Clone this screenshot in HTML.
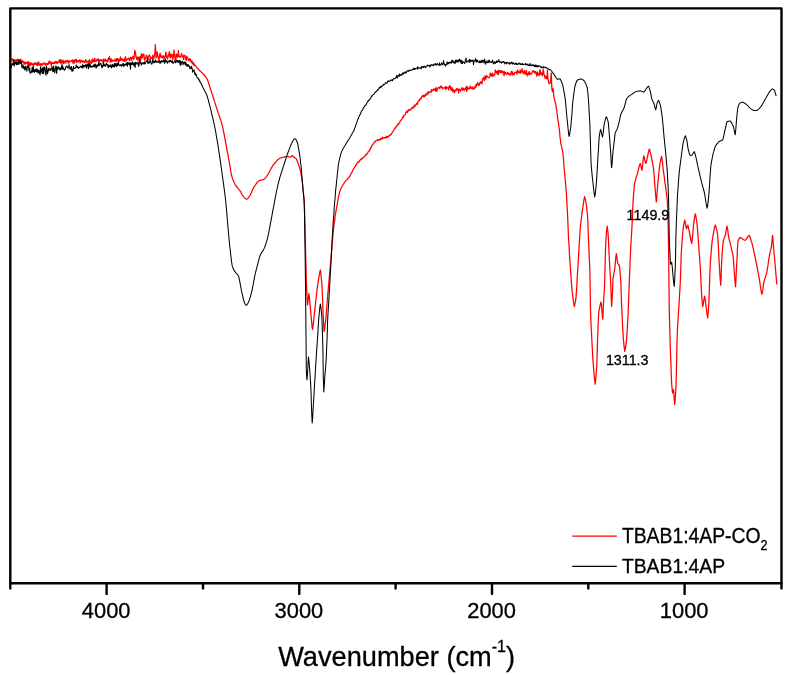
<!DOCTYPE html>
<html lang="en">
<head>
<meta charset="utf-8">
<title>FTIR spectra</title>
<style>
html,body{margin:0;padding:0;background:#fff;}
body{width:792px;height:675px;overflow:hidden;}
svg{display:block;}
svg text{font-family:"Liberation Sans",sans-serif;fill:#000;stroke:#000;stroke-width:0.3px;}
</style>
</head>
<body>
<svg width="792" height="675" viewBox="0 0 792 675">
<rect x="0" y="0" width="792" height="675" fill="#ffffff"/>
<g fill="none" stroke-linejoin="round" stroke-linecap="round">
<polyline stroke="#ff0000" stroke-width="1.25" points="10.5,59.5 10.9,60.0 11.3,59.5 11.7,58.9 12.1,59.6 12.5,59.0 12.9,60.4 13.3,62.0 13.7,59.9 14.1,59.9 14.5,61.3 14.9,61.2 15.3,61.0 15.7,59.9 16.1,61.1 16.5,62.0 16.9,59.7 17.3,60.8 17.7,59.2 18.1,60.0 18.4,59.5 18.8,61.5 19.2,60.3 19.6,62.3 20.0,62.2 20.4,61.9 20.8,59.2 21.2,61.6 21.6,62.3 22.0,62.6 22.4,60.7 22.8,62.0 23.2,61.5 23.6,61.8 24.0,64.1 24.4,61.9 24.8,62.9 25.2,64.1 25.6,62.4 26.0,63.0 26.4,63.3 26.8,63.3 27.2,61.9 27.6,63.5 28.0,65.1 28.4,61.6 28.8,64.6 29.2,63.7 29.6,62.9 30.0,66.1 30.4,64.7 30.8,62.3 31.2,63.9 31.6,64.6 31.9,63.7 32.3,64.8 32.7,63.9 33.1,64.8 33.5,65.8 33.9,63.2 34.3,64.3 34.7,63.5 35.1,64.3 35.5,62.7 35.9,63.5 36.3,63.9 36.7,65.3 37.1,65.6 37.5,62.6 37.9,63.2 38.3,65.0 38.7,61.8 39.1,63.6 39.5,64.1 39.9,65.7 40.3,65.0 40.7,63.8 41.1,63.7 41.5,63.8 41.8,65.9 42.2,63.6 42.6,63.7 43.0,64.5 43.4,63.9 43.8,63.8 44.2,62.6 44.6,63.9 45.0,63.4 45.4,65.3 45.8,64.6 46.2,63.8 46.6,64.6 47.0,63.3 47.4,64.9 47.8,63.6 48.2,64.3 48.6,62.0 49.0,63.9 49.3,61.4 49.7,61.0 50.1,63.0 50.5,62.3 50.9,63.5 51.3,65.9 51.7,62.2 52.1,62.4 52.5,63.3 52.9,63.6 53.3,62.8 53.7,62.7 54.1,63.7 54.5,63.5 54.9,61.6 55.3,62.7 55.7,62.8 56.0,61.4 56.4,62.9 56.8,61.5 57.2,63.7 57.6,62.7 58.0,62.5 58.4,61.7 58.8,62.2 59.2,59.9 59.6,60.9 60.0,62.7 60.4,59.6 60.8,63.2 61.2,60.0 61.6,63.0 62.0,61.0 62.4,62.9 62.8,62.1 63.2,60.1 63.5,63.4 63.9,63.6 64.3,61.8 64.7,61.5 65.1,61.6 65.5,60.6 65.9,63.1 66.3,61.1 66.7,61.6 67.1,60.7 67.5,60.9 67.9,60.1 68.3,63.1 68.7,61.4 69.1,62.8 69.5,61.6 69.9,60.7 70.3,61.2 70.7,60.9 71.1,61.5 71.5,61.1 71.9,61.1 72.2,59.8 72.6,60.5 73.0,63.5 73.4,60.7 73.8,60.2 74.2,61.8 74.6,63.1 75.0,59.7 75.4,61.2 75.8,60.6 76.2,59.3 76.6,62.3 77.0,61.3 77.4,61.4 77.8,60.4 78.2,61.9 78.6,60.7 79.0,61.1 79.4,60.0 79.8,59.8 80.2,62.9 80.6,60.7 81.0,61.6 81.4,61.2 81.8,60.7 82.2,60.6 82.6,62.0 83.0,60.9 83.3,61.0 83.7,61.2 84.1,62.6 84.5,62.0 84.9,61.6 85.3,60.5 85.7,59.5 86.1,62.3 86.5,62.3 86.9,61.0 87.3,61.8 87.7,62.1 88.1,62.1 88.5,62.2 88.9,60.5 89.3,62.9 89.7,59.6 90.1,62.1 90.5,61.6 90.9,62.1 91.3,63.3 91.7,62.8 92.1,59.6 92.5,59.0 92.9,62.0 93.3,59.8 93.7,61.0 94.1,62.0 94.5,59.0 94.8,58.4 95.2,61.3 95.6,61.0 96.0,60.6 96.4,61.0 96.8,59.9 97.2,59.1 97.6,60.7 98.0,59.7 98.4,58.9 98.8,61.4 99.2,60.8 99.6,61.3 100.0,59.6 100.4,60.0 100.8,59.6 101.2,59.7 101.6,61.0 102.0,59.8 102.4,61.2 102.8,61.1 103.2,63.1 103.6,59.0 104.0,61.7 104.4,60.6 104.8,60.6 105.2,58.9 105.6,60.1 106.0,61.5 106.4,60.5 106.8,60.7 107.2,60.2 107.6,62.0 108.0,60.5 108.4,57.9 108.8,59.7 109.2,58.2 109.6,56.6 110.0,59.8 110.4,62.1 110.8,60.5 111.2,59.0 111.6,59.3 112.0,61.8 112.4,60.6 112.8,60.4 113.2,60.3 113.6,60.4 114.0,61.3 114.4,61.0 114.8,60.6 115.2,59.0 115.6,60.9 116.0,59.4 116.4,61.5 116.8,58.7 117.2,60.0 117.6,60.1 118.0,58.5 118.4,62.2 118.8,61.8 119.2,59.5 119.6,61.0 120.0,60.5 120.4,56.8 120.8,60.2 121.2,59.8 121.6,59.9 122.0,58.4 122.3,59.4 122.7,59.4 123.1,61.1 123.5,59.9 123.9,59.4 124.3,61.4 124.7,58.5 125.1,58.7 125.5,56.6 125.8,61.2 126.2,60.3 126.6,60.2 127.0,59.7 127.4,58.9 127.8,59.0 128.2,58.2 128.6,58.2 129.0,58.5 129.4,60.6 129.8,59.2 130.1,58.2 130.5,57.4 130.9,57.3 131.3,60.6 131.7,59.0 132.1,58.3 132.5,57.7 132.9,56.5 133.3,58.1 133.7,59.5 134.1,57.6 134.4,54.3 134.8,50.4 135.2,51.7 135.6,53.0 136.0,57.8 136.4,56.9 136.8,59.5 137.2,57.0 137.6,59.0 138.0,60.4 138.4,57.6 138.8,57.2 139.2,58.4 139.6,58.1 139.9,56.6 140.3,58.8 140.7,60.5 141.1,55.4 141.5,53.9 141.9,54.3 142.3,58.1 142.7,55.7 143.1,54.0 143.5,55.6 143.9,54.1 144.3,59.0 144.7,60.4 145.1,58.5 145.4,57.6 145.8,58.1 146.2,55.2 146.6,56.1 147.0,56.0 147.4,58.1 147.8,60.3 148.2,59.5 148.6,56.6 149.0,55.5 149.4,54.7 149.8,56.4 150.2,56.9 150.6,58.4 150.9,58.5 151.3,57.6 151.7,58.0 152.1,58.2 152.5,56.0 152.9,55.2 153.3,58.1 153.7,58.0 154.1,58.1 154.5,54.4 154.9,52.8 155.3,44.7 155.7,49.8 156.1,57.9 156.5,56.9 156.9,53.4 157.3,51.9 157.7,56.1 158.1,56.8 158.5,58.8 158.9,61.2 159.3,57.6 159.7,54.8 160.1,53.2 160.5,56.2 160.9,57.3 161.3,56.0 161.7,57.9 162.0,56.0 162.4,57.8 162.8,56.0 163.2,56.4 163.6,55.8 164.0,58.4 164.4,57.4 164.8,57.0 165.2,56.6 165.6,53.6 166.0,52.0 166.4,56.9 166.8,56.9 167.2,57.9 167.6,59.0 168.0,54.9 168.4,56.3 168.8,54.6 169.2,51.8 169.6,52.3 170.0,57.5 170.4,57.8 170.8,55.0 171.2,54.1 171.6,56.1 172.0,56.9 172.4,54.7 172.8,59.6 173.2,57.7 173.6,55.7 174.0,50.0 174.4,53.2 174.8,55.1 175.2,61.4 175.6,57.3 176.0,58.7 176.4,54.0 176.8,55.9 177.2,54.5 177.6,57.1 178.0,56.5 178.4,50.5 178.8,55.4 179.2,56.9 179.6,56.2 180.0,57.0 180.4,57.1 180.8,57.0 181.2,54.8 181.6,53.5 182.0,55.8 182.4,56.3 182.8,56.1 183.2,58.0 183.5,59.4 183.9,54.9 184.3,56.1 184.7,55.4 185.1,56.1 185.5,59.7 185.9,57.7 186.3,60.3 186.7,56.1 187.1,57.5 187.5,57.6 187.9,57.9 188.2,60.2 188.6,59.4 189.0,60.9 189.4,60.2 189.8,58.6 190.2,59.3 190.5,59.1 190.9,61.8 191.3,60.8 191.7,62.5 192.1,61.0 192.5,63.9 192.9,62.5 193.3,62.4 193.6,64.3 194.0,65.5 194.4,64.1 194.8,64.9 195.2,65.5 195.6,65.8 196.0,66.9 196.4,66.9 196.7,67.3 197.1,68.1 197.5,68.2 197.9,68.9 198.3,69.0 198.7,69.4 199.1,69.7 199.5,70.7 199.9,70.7 200.3,71.1 200.7,71.5 201.1,71.8 201.5,72.2 201.9,72.6 202.3,72.9 202.7,73.3 203.1,73.7 203.5,74.1 203.9,74.5 204.3,75.0 204.7,75.5 205.1,76.0 205.5,76.5 205.9,77.1 206.3,77.7 206.7,78.3 207.1,79.0 207.4,79.8 207.8,80.8 208.2,81.8 208.6,82.9 208.9,84.1 209.3,85.3 209.7,86.5 210.1,87.7 210.4,88.9 210.8,90.0 211.2,91.2 211.6,92.4 212.0,93.6 212.4,94.8 212.8,96.0 213.2,97.2 213.6,98.4 213.9,99.6 214.3,100.9 214.7,102.1 215.1,103.3 215.5,104.6 215.9,105.8 216.3,107.1 216.7,108.3 217.1,109.5 217.5,110.7 217.9,111.8 218.2,112.9 218.6,114.1 219.0,115.2 219.4,116.3 219.8,117.5 220.2,118.7 220.6,119.9 221.0,121.1 221.3,122.4 221.7,123.8 222.1,125.2 222.5,126.7 222.9,128.2 223.2,129.9 223.6,131.7 224.0,133.5 224.3,135.5 224.7,137.4 225.1,139.4 225.4,141.4 225.8,143.3 226.2,145.3 226.6,147.3 226.9,149.3 227.3,151.3 227.7,153.4 228.1,155.5 228.4,157.5 228.8,159.6 229.2,161.7 229.6,163.8 229.9,166.0 230.3,168.2 230.6,170.5 231.0,172.5 231.3,174.3 231.7,175.8 232.1,177.1 232.4,178.2 232.8,179.3 233.2,180.3 233.5,181.2 233.9,182.0 234.3,182.8 234.6,183.5 235.0,184.2 235.4,184.9 235.8,185.5 236.2,186.0 236.5,186.5 236.9,187.0 237.3,187.5 237.7,187.9 238.1,188.4 238.5,188.8 238.8,189.3 239.2,189.8 239.6,190.3 240.0,190.8 240.4,191.4 240.8,192.0 241.1,192.7 241.5,193.4 241.9,194.1 242.3,194.8 242.7,195.4 243.1,196.0 243.4,196.6 243.8,197.1 244.2,197.5 244.6,197.8 244.9,198.2 245.3,198.5 245.6,198.8 246.0,199.0 246.3,199.1 246.7,199.2 247.1,199.1 247.4,198.9 247.8,198.6 248.1,198.1 248.5,197.7 248.8,197.2 249.2,196.7 249.6,196.2 250.0,195.5 250.4,194.8 250.7,194.0 251.1,193.1 251.5,192.3 251.9,191.4 252.3,190.5 252.7,189.6 253.0,188.8 253.4,188.0 253.8,187.3 254.2,186.7 254.6,186.1 255.0,185.6 255.4,185.0 255.7,184.4 256.1,183.9 256.5,183.4 256.9,182.9 257.3,182.4 257.7,182.0 258.0,181.6 258.4,181.3 258.8,181.0 259.2,180.8 259.6,180.6 260.0,180.5 260.4,180.3 260.7,180.2 261.1,180.1 261.5,180.1 261.9,180.0 262.3,179.9 262.7,179.8 263.0,179.7 263.4,179.5 263.8,179.4 264.2,179.2 264.6,179.0 264.9,178.6 265.3,178.2 265.7,177.7 266.0,177.2 266.4,176.7 266.8,176.1 267.1,175.5 267.5,175.0 267.9,174.4 268.3,173.8 268.7,173.1 269.0,172.4 269.4,171.7 269.8,171.0 270.2,170.2 270.6,169.5 271.0,168.8 271.4,168.1 271.8,167.4 272.1,166.7 272.5,166.1 272.9,165.5 273.3,165.0 273.7,164.5 274.1,164.0 274.5,163.5 274.9,163.0 275.3,162.5 275.7,162.0 276.1,161.6 276.5,161.1 276.8,160.7 277.2,160.3 277.6,159.9 278.0,159.6 278.4,159.3 278.8,159.0 279.2,158.7 279.6,158.5 280.0,158.3 280.4,158.1 280.8,158.0 281.2,157.8 281.6,157.7 282.0,157.5 282.4,157.4 282.8,157.3 283.2,157.2 283.5,157.1 283.9,157.0 284.3,156.9 284.7,156.8 285.1,156.7 285.5,156.7 285.9,156.6 286.3,156.6 286.7,156.6 287.1,156.6 287.5,156.6 287.8,156.7 288.2,156.7 288.6,156.8 289.0,156.9 289.4,156.9 289.7,157.0 290.1,157.0 290.5,157.0 290.9,156.9 291.3,156.5 291.6,156.2 292.0,155.8 292.4,155.7 292.8,155.8 293.1,156.2 293.5,156.6 293.8,157.0 294.2,157.4 294.6,157.7 295.0,157.9 295.4,158.1 295.8,158.4 296.2,158.8 296.5,159.3 296.8,160.0 297.2,160.9 297.5,161.8 297.8,162.7 298.2,163.6 298.5,164.6 298.9,165.5 299.2,166.6 299.6,167.7 300.0,169.0 300.4,170.7 300.8,172.3 301.1,174.3 301.5,176.4 301.8,178.6 302.2,180.9 302.5,183.3 302.8,186.6 303.2,190.0 303.5,193.7 303.9,197.6 304.2,202.0 304.5,208.9 304.7,216.8 305.0,225.0 305.3,238.3 305.6,252.7 306.0,266.9 306.3,279.6 306.7,289.4 307.1,298.4 307.5,304.8 307.9,302.5 308.2,299.2 308.6,296.0 309.0,293.7 309.3,296.4 309.7,300.0 310.0,304.1 310.4,308.3 310.7,312.2 311.1,315.9 311.4,319.9 311.8,323.6 312.1,326.9 312.5,329.3 312.9,327.1 313.3,324.1 313.6,320.7 314.0,317.1 314.4,313.7 314.8,310.4 315.1,307.0 315.5,303.5 315.9,300.1 316.3,296.7 316.6,293.3 317.0,290.1 317.4,287.0 317.8,284.6 318.1,282.2 318.5,279.7 318.9,277.3 319.3,275.1 319.6,273.1 320.0,271.4 320.4,270.0 320.8,272.5 321.1,275.9 321.5,279.8 321.9,284.0 322.2,291.4 322.6,299.8 322.9,308.5 323.3,316.7 323.6,322.2 323.8,327.6 324.1,331.5 324.5,329.6 324.9,327.0 325.2,324.1 325.6,321.1 326.0,317.0 326.3,312.7 326.7,308.1 327.1,303.5 327.4,298.9 327.8,294.4 328.2,290.2 328.5,286.0 328.9,281.8 329.3,277.7 329.6,273.5 330.0,269.3 330.4,265.0 330.8,260.7 331.1,256.3 331.5,252.0 331.9,247.9 332.2,243.8 332.6,239.6 332.9,235.5 333.2,231.6 333.6,227.9 334.0,225.0 334.4,222.3 334.8,219.6 335.1,216.4 335.5,213.9 335.9,211.6 336.3,209.3 336.7,207.1 337.1,204.9 337.5,202.6 337.9,200.4 338.2,198.3 338.6,196.3 339.0,194.5 339.4,192.9 339.8,191.6 340.2,190.5 340.5,189.6 340.9,188.7 341.3,187.9 341.7,187.1 342.0,186.4 342.4,185.7 342.8,185.1 343.2,184.5 343.5,183.9 343.9,183.3 344.3,182.8 344.6,182.3 345.0,181.8 345.4,181.3 345.8,180.9 346.1,180.5 346.5,180.1 346.9,179.8 347.2,179.5 347.6,179.0 348.0,178.7 348.4,177.9 348.7,177.8 349.1,177.5 349.5,176.7 349.9,175.9 350.3,175.2 350.7,174.9 351.1,173.4 351.5,172.8 351.9,172.3 352.3,171.6 352.7,170.4 353.1,169.9 353.5,168.9 353.9,168.4 354.3,167.7 354.7,166.7 355.1,166.4 355.5,166.2 355.9,164.9 356.3,164.5 356.7,164.3 357.1,163.1 357.5,163.0 357.9,162.0 358.3,162.3 358.7,162.3 359.1,161.7 359.5,160.4 359.9,160.4 360.3,159.8 360.7,159.5 361.1,159.7 361.5,158.3 361.9,158.9 362.3,158.2 362.7,158.5 363.1,157.7 363.5,157.1 363.9,157.1 364.3,157.0 364.7,156.3 365.1,156.1 365.4,155.3 365.8,154.3 366.1,155.1 366.5,154.6 366.9,153.9 367.2,153.4 367.6,153.4 367.9,152.3 368.3,151.7 368.7,151.4 369.1,151.4 369.5,149.6 369.9,150.1 370.3,148.6 370.7,147.7 371.1,148.0 371.5,146.7 371.8,145.5 372.2,145.2 372.6,145.1 373.0,144.6 373.4,143.3 373.8,143.1 374.2,142.8 374.6,141.7 375.0,141.9 375.4,141.4 375.8,140.9 376.2,140.6 376.6,140.6 377.0,140.4 377.4,139.9 377.8,139.7 378.2,140.3 378.5,139.6 378.9,139.8 379.3,139.8 379.7,139.3 380.1,139.9 380.5,138.3 380.9,139.0 381.3,138.3 381.7,139.2 382.1,139.0 382.5,137.1 382.9,137.5 383.3,138.2 383.6,138.2 384.0,138.1 384.4,137.6 384.8,137.8 385.2,137.9 385.6,137.4 386.0,137.9 386.4,136.2 386.7,137.5 387.1,136.6 387.5,137.5 387.9,136.7 388.3,136.2 388.7,136.7 389.1,135.8 389.5,135.4 389.9,134.7 390.3,135.1 390.7,134.9 391.1,134.6 391.5,133.5 391.8,133.5 392.2,132.4 392.6,131.7 393.0,131.5 393.4,131.1 393.8,129.8 394.2,129.3 394.6,128.7 395.0,128.3 395.4,127.3 395.8,127.8 396.2,126.5 396.6,126.5 397.0,125.2 397.4,125.3 397.8,124.8 398.2,123.8 398.5,124.6 398.9,123.1 399.3,123.4 399.7,122.4 400.1,120.9 400.5,120.6 400.9,120.5 401.3,119.8 401.7,119.2 402.1,118.5 402.5,117.1 402.9,117.5 403.3,115.8 403.6,116.8 404.0,115.6 404.4,115.1 404.8,114.8 405.2,114.6 405.6,113.1 406.0,112.4 406.4,112.3 406.7,111.2 407.1,111.4 407.5,112.5 407.9,110.5 408.3,111.2 408.7,109.6 409.1,110.3 409.5,109.6 409.9,109.5 410.3,109.6 410.7,110.0 411.1,108.8 411.5,108.5 411.8,107.6 412.2,108.3 412.6,107.5 413.0,107.9 413.4,107.1 413.8,107.9 414.2,105.2 414.6,106.0 415.0,106.4 415.4,105.2 415.8,104.5 416.2,104.3 416.6,103.1 417.0,103.6 417.4,104.5 417.8,103.1 418.2,101.1 418.5,100.7 418.9,100.5 419.3,100.9 419.7,99.1 420.1,98.7 420.5,99.3 420.9,98.8 421.3,97.6 421.7,96.8 422.1,96.2 422.5,96.4 422.9,95.1 423.3,96.8 423.6,95.6 424.0,96.1 424.4,96.8 424.8,96.1 425.2,94.3 425.6,95.5 426.0,95.5 426.4,93.9 426.7,93.6 427.1,93.9 427.5,92.7 427.9,94.6 428.3,91.6 428.7,92.3 429.1,92.6 429.5,92.4 429.9,92.4 430.3,92.2 430.7,91.5 431.1,92.3 431.5,89.5 431.8,90.9 432.2,90.1 432.6,90.5 433.0,90.3 433.4,89.1 433.8,89.1 434.2,90.2 434.6,89.7 435.0,88.6 435.4,91.0 435.8,91.2 436.2,87.3 436.6,88.9 437.0,91.1 437.4,89.2 437.8,88.5 438.2,87.9 438.5,87.4 438.9,87.6 439.3,87.1 439.7,88.6 440.1,87.2 440.5,87.0 440.9,86.1 441.3,87.4 441.7,86.4 442.1,87.3 442.5,88.8 442.9,88.0 443.3,88.2 443.6,88.0 444.0,87.7 444.4,87.5 444.8,87.4 445.2,88.7 445.6,86.5 446.0,89.6 446.4,88.0 446.7,87.1 447.1,87.5 447.5,87.3 447.9,88.4 448.3,87.4 448.7,89.8 449.1,87.5 449.5,85.7 449.9,87.7 450.3,86.2 450.7,88.8 451.1,90.3 451.5,89.9 451.9,87.4 452.3,88.3 452.7,91.6 453.1,89.9 453.5,89.6 453.9,91.0 454.3,92.9 454.7,91.5 455.1,90.1 455.5,90.4 455.9,90.8 456.3,89.2 456.7,88.6 457.1,90.1 457.5,88.8 457.9,89.9 458.3,90.1 458.7,93.0 459.1,88.8 459.5,89.8 459.9,89.7 460.3,90.4 460.7,91.2 461.1,89.2 461.5,88.7 461.9,87.6 462.3,88.5 462.7,90.4 463.1,89.7 463.5,88.2 463.9,89.0 464.3,89.5 464.7,90.1 465.1,88.6 465.5,89.0 465.9,86.8 466.3,87.7 466.7,91.4 467.1,86.2 467.5,88.6 467.9,89.3 468.3,88.4 468.6,87.8 469.0,88.7 469.4,88.7 469.8,88.5 470.2,85.9 470.6,88.2 471.0,87.1 471.4,87.4 471.7,88.3 472.1,88.8 472.5,89.0 472.9,86.9 473.3,88.8 473.7,89.0 474.1,88.8 474.5,88.9 474.9,86.6 475.3,86.3 475.7,87.5 476.1,84.2 476.5,86.2 476.8,84.9 477.2,84.8 477.6,82.6 478.0,83.5 478.4,84.5 478.8,85.5 479.2,85.3 479.6,83.5 480.0,83.0 480.4,81.8 480.8,83.2 481.2,81.9 481.6,82.7 482.0,83.9 482.4,80.9 482.8,78.3 483.2,78.8 483.5,77.5 483.9,77.4 484.3,80.6 484.7,78.6 485.1,75.7 485.5,78.5 485.9,79.1 486.3,76.4 486.7,75.7 487.1,76.0 487.5,76.7 487.9,77.1 488.3,77.7 488.6,77.6 489.0,77.4 489.4,77.5 489.8,76.4 490.2,73.0 490.6,74.9 491.0,75.5 491.4,74.3 491.7,76.1 492.1,74.1 492.5,73.1 492.9,76.4 493.3,75.2 493.7,74.4 494.1,75.2 494.5,75.2 494.9,74.0 495.3,69.9 495.7,72.2 496.1,72.3 496.5,71.4 496.8,72.8 497.2,74.0 497.6,71.6 498.0,70.5 498.4,74.6 498.8,71.2 499.2,70.1 499.6,72.0 500.0,72.3 500.4,70.8 500.8,72.7 501.2,71.1 501.6,70.6 502.0,72.1 502.4,72.9 502.8,71.2 503.2,72.5 503.6,72.1 504.0,75.7 504.4,71.5 504.8,74.1 505.2,72.5 505.6,72.5 506.0,73.6 506.4,73.9 506.8,74.4 507.2,73.4 507.6,72.3 508.0,72.5 508.4,73.8 508.8,73.9 509.2,74.9 509.6,73.8 510.0,74.6 510.4,75.1 510.8,73.5 511.2,71.5 511.6,71.8 511.9,71.5 512.3,75.0 512.7,72.1 513.1,74.5 513.5,73.7 513.9,74.9 514.3,74.0 514.7,72.6 515.1,72.4 515.5,72.7 515.9,72.7 516.2,71.8 516.6,72.3 517.0,74.2 517.4,70.1 517.8,72.4 518.2,71.0 518.6,72.2 519.0,72.9 519.4,71.8 519.8,72.7 520.1,69.9 520.5,73.1 520.9,71.0 521.3,72.5 521.7,71.9 522.1,68.6 522.5,70.8 522.9,72.0 523.3,73.7 523.7,72.2 524.1,72.3 524.5,70.4 524.9,73.9 525.3,74.4 525.7,72.4 526.0,72.2 526.4,70.6 526.8,73.7 527.2,76.0 527.6,73.7 528.0,74.5 528.4,73.7 528.8,71.9 529.2,74.8 529.6,71.8 530.0,73.0 530.4,73.7 530.8,74.4 531.2,73.9 531.6,73.9 532.0,72.5 532.4,71.1 532.8,71.6 533.2,70.7 533.6,71.1 534.0,72.0 534.4,73.0 534.8,71.4 535.2,72.0 535.6,71.7 536.0,73.9 536.4,74.2 536.8,76.1 537.2,71.9 537.6,72.9 538.0,74.9 538.4,73.6 538.8,73.5 539.2,75.6 539.6,71.9 540.0,69.6 540.4,70.8 540.8,74.2 541.2,74.7 541.6,72.9 542.0,73.7 542.4,75.8 542.8,74.0 543.1,69.6 543.5,70.6 543.9,74.2 544.3,74.7 544.7,76.9 545.1,78.2 545.5,77.4 545.9,76.0 546.3,78.6 546.7,78.6 547.1,76.5 547.4,70.0 547.8,79.2 548.2,78.9 548.6,82.6 549.0,83.4 549.3,83.7 549.7,83.5 550.1,82.8 550.5,82.6 550.9,76.5 551.3,72.9 551.7,85.4 552.1,90.3 552.5,91.7 552.9,88.4 553.3,91.0 553.7,94.8 554.1,98.5 554.5,99.1 554.8,100.0 555.2,102.8 555.6,103.2 556.0,105.9 556.4,109.3 556.8,110.7 557.1,113.6 557.5,115.9 557.8,119.6 558.2,121.5 558.5,123.2 558.9,126.4 559.3,128.8 559.7,132.7 560.0,137.1 560.4,139.7 560.8,143.4 561.2,144.7 561.6,146.7 561.9,148.7 562.3,149.4 562.7,151.5 563.1,154.9 563.5,159.1 563.8,163.7 564.2,168.7 564.6,173.2 565.0,177.1 565.4,181.2 565.7,185.3 566.1,189.7 566.5,194.3 566.8,200.2 567.1,206.6 567.5,213.2 567.8,220.0 568.1,227.7 568.4,235.3 568.8,242.1 569.2,248.6 569.5,254.8 569.9,260.8 570.3,266.8 570.7,272.1 571.1,277.4 571.4,282.5 571.8,287.4 572.2,292.0 572.5,294.4 572.8,296.7 573.1,298.9 573.5,301.7 573.9,304.5 574.3,306.5 574.6,305.3 575.0,303.7 575.3,301.8 575.7,299.8 576.0,297.6 576.4,292.4 576.8,286.3 577.1,279.8 577.5,273.2 577.9,266.8 578.3,260.9 578.6,254.9 579.0,248.8 579.3,242.8 579.7,237.0 580.0,231.5 580.4,226.4 580.8,223.3 581.1,220.3 581.5,217.5 581.8,214.8 582.2,212.2 582.5,209.6 582.9,207.0 583.2,204.7 583.6,202.3 583.9,200.0 584.3,198.1 584.6,196.6 585.0,197.8 585.4,199.4 585.7,201.3 586.1,203.2 586.5,205.8 586.8,208.6 587.1,211.6 587.5,215.0 587.9,223.0 588.2,232.3 588.6,241.6 588.9,249.1 589.2,256.4 589.6,264.2 589.9,273.1 590.2,291.8 590.5,310.3 590.8,318.6 591.1,325.9 591.5,332.6 591.8,339.3 592.1,345.0 592.4,350.7 592.7,356.1 593.0,361.2 593.4,365.6 593.7,370.1 594.1,374.4 594.5,378.3 594.8,381.6 595.2,384.2 595.5,381.4 595.9,377.6 596.2,373.2 596.6,368.3 596.9,363.0 597.2,352.7 597.5,341.8 597.8,333.8 598.1,325.9 598.4,318.7 598.7,312.8 599.1,310.4 599.5,308.3 599.9,306.3 600.2,304.6 600.6,303.1 601.0,302.0 601.4,304.7 601.7,308.5 602.1,312.6 602.4,316.4 602.8,319.1 603.1,314.2 603.3,307.4 603.6,301.0 603.9,295.7 604.3,290.8 604.6,285.0 604.9,273.1 605.2,260.5 605.5,249.5 605.9,240.0 606.2,235.8 606.5,231.9 606.9,228.6 607.2,226.2 607.5,228.5 607.9,231.7 608.2,235.3 608.6,243.1 609.0,251.9 609.4,260.5 609.7,266.2 610.0,271.6 610.4,277.1 610.7,283.0 611.0,291.3 611.3,300.1 611.6,306.5 611.9,302.3 612.3,296.4 612.6,290.0 613.0,278.2 613.4,275.9 613.8,274.1 614.1,272.5 614.5,270.6 614.9,267.2 615.3,263.4 615.6,259.5 616.0,256.1 616.4,253.6 616.7,255.5 617.0,258.1 617.3,260.8 617.6,263.0 617.9,263.6 618.3,264.1 618.6,264.5 619.0,265.0 619.3,265.6 619.7,268.5 620.0,272.0 620.4,276.1 620.8,280.7 621.1,290.0 621.4,300.0 621.8,308.4 622.2,316.6 622.5,324.2 622.9,331.4 623.3,338.0 623.7,341.9 624.0,345.7 624.4,348.9 624.8,351.3 625.1,349.8 625.5,347.9 625.8,345.7 626.2,343.2 626.5,340.6 626.8,335.7 627.2,330.3 627.5,324.5 627.9,318.3 628.2,312.0 628.6,301.8 629.0,290.8 629.4,280.0 629.7,272.3 630.0,264.7 630.3,257.2 630.6,250.0 630.9,244.1 631.2,238.6 631.6,233.2 631.9,227.7 632.2,222.0 632.6,213.9 632.9,205.6 633.3,198.0 633.6,193.9 634.0,190.1 634.3,186.6 634.6,183.5 635.0,181.8 635.4,180.2 635.8,178.8 636.2,177.5 636.6,176.2 637.0,174.9 637.4,173.5 637.8,172.2 638.1,170.8 638.5,169.3 638.8,167.9 639.1,166.5 639.5,165.3 639.9,164.2 640.2,163.4 640.6,164.5 640.9,166.0 641.3,167.7 641.6,169.2 642.0,170.3 642.3,168.0 642.7,164.8 643.0,161.3 643.4,158.1 643.7,155.8 644.1,156.8 644.4,158.1 644.8,159.6 645.1,161.1 645.4,162.4 645.8,163.4 646.2,162.4 646.5,161.2 646.9,159.7 647.2,158.0 647.6,156.3 648.0,154.5 648.3,152.8 648.7,151.3 649.0,150.1 649.4,149.1 649.8,150.1 650.1,151.4 650.5,152.9 650.8,154.5 651.1,156.1 651.5,157.7 651.9,159.6 652.3,161.5 652.6,163.5 653.0,165.5 653.4,167.8 653.8,171.8 654.2,176.3 654.5,181.1 654.9,185.9 655.3,190.5 655.6,194.7 656.0,198.9 656.3,201.9 656.7,198.6 657.0,194.0 657.4,188.9 657.8,184.2 658.2,180.2 658.6,176.2 658.9,172.3 659.3,168.7 659.7,165.3 660.1,163.2 660.5,161.1 660.8,159.2 661.2,157.6 661.6,156.4 662.0,158.6 662.4,161.5 662.7,164.9 663.1,168.4 663.5,171.6 663.9,174.4 664.3,177.2 664.6,179.9 665.0,182.7 665.4,185.5 665.8,188.3 666.2,191.1 666.5,193.9 666.9,197.0 667.3,200.6 667.6,207.6 667.9,215.8 668.2,225.0 668.6,247.9 668.9,276.9 669.2,305.0 669.5,319.8 669.9,332.8 670.2,345.0 670.6,355.8 671.0,366.1 671.3,375.8 671.7,384.2 672.0,387.7 672.3,390.8 672.6,393.0 672.9,392.0 673.2,390.5 673.5,389.5 673.8,392.6 674.1,397.0 674.4,401.4 674.7,404.5 675.1,401.0 675.4,396.2 675.8,390.5 676.1,384.2 676.5,367.7 676.8,350.0 677.1,339.7 677.4,330.5 677.8,323.7 678.2,317.6 678.5,311.8 678.9,306.1 679.3,300.0 679.6,294.1 680.0,288.1 680.3,281.8 680.6,275.0 680.9,264.4 681.2,254.2 681.6,248.2 682.0,242.7 682.3,237.7 682.7,233.1 683.1,228.9 683.4,226.8 683.7,224.8 684.1,222.9 684.4,221.3 684.7,220.1 685.1,221.5 685.4,223.4 685.8,225.6 686.1,227.5 686.5,228.9 686.8,228.1 687.1,227.1 687.5,226.0 687.8,225.2 688.2,226.4 688.5,227.9 688.9,229.7 689.3,231.6 689.6,233.5 690.0,235.3 690.3,237.0 690.7,238.9 691.0,240.7 691.4,242.3 691.7,243.5 692.1,241.0 692.4,237.7 692.8,233.9 693.1,229.9 693.4,226.0 693.8,222.6 694.2,220.1 694.5,217.6 694.9,215.4 695.3,213.8 695.6,215.2 696.0,217.0 696.3,219.2 696.7,221.5 697.0,223.9 697.4,228.2 697.8,232.8 698.1,237.8 698.5,242.9 698.9,247.9 699.2,252.7 699.6,257.6 699.9,262.6 700.3,267.7 700.6,273.1 701.0,281.9 701.4,290.5 701.7,295.2 702.0,299.7 702.4,303.7 702.7,306.6 703.1,305.0 703.5,302.7 703.8,300.1 704.2,297.8 704.6,296.2 705.0,298.0 705.3,300.5 705.7,303.3 706.0,306.3 706.4,309.0 706.7,311.4 707.0,314.0 707.4,316.2 707.7,317.9 708.0,314.7 708.4,310.3 708.7,305.3 709.0,300.0 709.3,291.8 709.6,282.4 709.9,273.2 710.2,265.0 710.6,259.6 711.0,254.6 711.3,249.9 711.7,245.6 712.1,241.6 712.5,239.1 712.9,236.6 713.3,234.2 713.7,231.9 714.1,229.8 714.5,227.9 714.9,226.3 715.3,225.0 715.6,225.9 716.0,227.1 716.3,228.4 716.7,229.9 717.0,231.6 717.4,233.4 717.7,235.3 718.0,240.4 718.4,246.6 718.7,253.1 719.0,259.3 719.3,265.0 719.7,270.9 720.0,276.6 720.4,281.5 720.7,285.2 721.1,278.1 721.4,268.3 721.8,259.3 722.1,254.1 722.5,249.2 722.9,244.7 723.2,241.0 723.6,239.9 723.9,238.9 724.2,238.0 724.6,237.2 724.9,236.3 725.3,235.3 725.6,233.5 726.0,231.5 726.3,229.4 726.7,227.5 727.0,226.2 727.4,227.9 727.8,230.3 728.1,233.0 728.5,235.7 728.9,238.1 729.2,239.6 729.6,241.0 730.0,242.4 730.3,243.8 730.6,245.2 731.0,246.6 731.4,248.1 731.7,249.6 732.0,251.2 732.4,252.8 732.8,254.5 733.1,256.4 733.5,260.5 733.8,265.1 734.1,270.0 734.5,274.7 734.8,279.1 735.2,283.5 735.5,286.7 735.9,281.3 736.2,273.8 736.6,266.3 737.0,259.5 737.3,252.5 737.6,246.0 738.0,241.0 738.4,240.2 738.7,239.5 739.0,238.8 739.4,238.2 739.8,237.8 740.1,237.4 740.5,237.5 740.9,237.7 741.2,237.9 741.6,238.2 742.0,238.4 742.4,238.7 742.7,239.0 743.1,239.3 743.5,239.5 743.9,239.8 744.2,240.0 744.6,240.2 745.0,240.3 745.4,240.0 745.8,239.6 746.2,239.1 746.6,238.6 747.0,238.1 747.3,237.5 747.7,237.0 748.1,236.5 748.5,236.0 748.9,235.6 749.3,235.3 749.6,236.0 750.0,236.9 750.4,237.9 750.7,239.0 751.0,240.2 751.4,241.4 751.8,242.6 752.1,243.8 752.5,245.4 752.9,247.0 753.3,248.7 753.7,250.4 754.0,252.2 754.4,253.9 754.8,255.7 755.2,257.5 755.6,259.3 756.0,261.3 756.4,263.3 756.8,265.3 757.2,267.3 757.5,269.3 757.9,271.4 758.3,273.4 758.7,275.5 759.1,277.6 759.5,280.1 759.9,282.8 760.3,285.5 760.7,288.2 761.1,290.7 761.5,292.8 761.9,294.4 762.2,292.9 762.6,290.9 763.0,288.6 763.3,286.2 763.6,283.9 764.0,281.8 764.4,280.5 764.7,279.2 765.1,278.0 765.5,276.9 765.8,275.7 766.2,274.5 766.5,273.3 766.9,271.9 767.2,269.8 767.6,267.6 768.0,265.2 768.3,262.8 768.6,260.4 769.0,258.0 769.4,255.7 769.7,253.6 770.1,252.2 770.4,250.9 770.8,249.6 771.1,248.2 771.5,246.6 771.8,242.8 772.2,238.5 772.5,235.3 772.9,238.2 773.2,242.2 773.5,246.6 773.9,250.8 774.2,254.7 774.6,258.5 774.9,262.4 775.3,266.3 775.6,270.6 776.0,275.0 776.4,279.4 776.7,283.9"/>
<polyline stroke="#000000" stroke-width="1.05" points="10.5,66.6 10.9,68.1 11.3,67.5 11.7,64.1 12.1,64.1 12.4,63.4 12.8,65.0 13.2,63.6 13.5,64.8 13.9,59.5 14.3,66.1 14.6,62.6 15.0,64.2 15.4,62.5 15.8,62.1 16.2,63.8 16.6,64.7 17.0,62.6 17.4,62.8 17.8,64.6 18.2,61.4 18.6,60.1 19.0,64.4 19.4,62.2 19.8,59.7 20.2,62.4 20.6,63.5 20.9,62.2 21.3,61.9 21.7,65.7 22.1,68.0 22.5,65.7 22.9,64.7 23.3,67.6 23.7,68.6 24.1,66.4 24.5,68.6 24.9,70.1 25.3,67.3 25.7,66.1 26.1,69.1 26.5,69.1 26.9,71.3 27.3,65.8 27.7,67.5 28.1,67.2 28.5,65.3 28.9,69.9 29.3,71.0 29.7,68.1 30.1,73.4 30.5,72.1 30.9,71.8 31.3,71.3 31.7,72.7 32.1,67.3 32.5,72.0 32.9,72.0 33.3,66.4 33.7,71.4 34.1,70.0 34.5,72.5 34.9,69.5 35.3,70.6 35.7,71.4 36.1,68.5 36.5,72.0 36.9,70.3 37.3,71.8 37.7,69.3 38.1,73.2 38.5,72.1 38.9,70.2 39.3,72.1 39.7,73.6 40.1,74.9 40.5,66.8 40.9,72.7 41.3,71.7 41.7,70.4 42.1,68.2 42.5,73.6 42.9,67.6 43.3,72.0 43.7,73.7 44.1,66.7 44.5,69.8 44.9,67.4 45.3,71.1 45.7,74.1 46.1,75.2 46.5,66.2 46.9,69.0 47.2,71.9 47.6,73.8 48.0,71.1 48.4,68.4 48.8,70.7 49.2,69.9 49.6,69.4 50.0,68.1 50.4,70.5 50.8,70.3 51.2,69.3 51.6,68.9 52.0,66.6 52.4,68.2 52.8,71.7 53.2,68.7 53.6,66.0 54.0,71.7 54.4,69.9 54.7,73.0 55.1,68.8 55.5,67.7 55.9,65.7 56.3,71.1 56.7,73.4 57.1,66.8 57.5,67.1 57.9,69.5 58.3,66.7 58.7,67.8 59.1,67.6 59.5,68.6 59.9,70.2 60.3,68.2 60.7,69.8 61.1,67.4 61.5,68.7 61.9,64.3 62.3,65.5 62.7,69.5 63.1,67.0 63.5,69.0 63.9,69.0 64.3,70.3 64.7,69.4 65.1,69.7 65.5,67.7 65.9,66.7 66.3,66.6 66.7,67.0 67.0,65.9 67.4,66.9 67.8,67.7 68.2,68.3 68.6,67.2 69.0,64.5 69.4,67.7 69.8,68.1 70.2,69.6 70.6,68.7 71.0,66.6 71.4,66.5 71.8,71.1 72.2,68.9 72.6,70.7 73.0,71.2 73.4,66.2 73.8,68.2 74.2,68.3 74.6,68.5 75.0,68.4 75.4,67.8 75.8,67.7 76.2,64.9 76.6,67.1 77.0,66.1 77.4,67.5 77.8,66.5 78.2,68.3 78.6,68.5 79.0,67.7 79.4,67.6 79.8,67.2 80.2,66.3 80.6,66.7 81.0,66.1 81.4,67.5 81.8,66.8 82.2,67.7 82.6,64.6 83.0,68.1 83.3,65.4 83.7,65.4 84.1,66.2 84.5,65.6 84.9,66.9 85.3,65.5 85.7,64.6 86.1,64.9 86.5,68.3 86.9,66.3 87.3,64.3 87.7,66.1 88.1,63.6 88.5,68.8 88.9,63.6 89.3,66.7 89.7,66.8 90.1,63.6 90.5,66.3 90.9,67.4 91.3,66.5 91.7,66.2 92.1,67.2 92.5,66.0 92.9,66.3 93.3,65.5 93.7,66.7 94.1,64.3 94.5,66.9 94.9,64.9 95.3,64.0 95.7,66.2 96.1,68.2 96.5,67.0 96.9,64.8 97.3,66.6 97.7,64.9 98.0,65.4 98.4,65.7 98.8,62.1 99.2,65.8 99.6,64.0 100.0,64.4 100.4,63.3 100.8,63.2 101.2,64.1 101.6,66.6 102.0,67.9 102.4,65.4 102.8,67.0 103.2,65.0 103.6,62.6 104.0,65.6 104.4,66.0 104.8,64.7 105.2,65.8 105.6,66.2 106.0,64.1 106.4,63.2 106.8,65.0 107.2,65.0 107.6,64.8 108.0,66.7 108.4,67.7 108.8,64.7 109.2,66.2 109.6,66.6 110.0,66.2 110.4,66.7 110.7,64.7 111.1,66.2 111.5,68.0 111.9,66.3 112.3,64.3 112.7,66.0 113.1,66.9 113.5,65.6 113.9,64.3 114.3,67.2 114.7,63.3 115.1,65.8 115.5,65.0 115.9,63.4 116.3,66.7 116.7,65.5 117.1,63.4 117.5,65.8 117.9,64.4 118.3,62.3 118.7,64.0 119.1,65.3 119.5,65.8 119.9,65.1 120.3,64.9 120.6,65.5 121.0,64.5 121.4,66.4 121.8,65.0 122.2,65.2 122.6,65.5 123.0,63.3 123.4,63.8 123.8,66.8 124.2,65.2 124.6,64.3 125.0,65.1 125.4,64.0 125.8,65.0 126.2,63.7 126.6,64.9 127.0,62.4 127.4,66.3 127.8,63.8 128.1,62.3 128.5,64.1 128.9,63.9 129.3,64.6 129.7,62.8 130.1,64.9 130.5,69.2 130.9,62.5 131.3,64.7 131.7,63.8 132.1,64.4 132.5,61.7 132.9,62.5 133.2,64.6 133.6,63.8 134.0,66.0 134.4,62.8 134.8,63.9 135.2,67.5 135.5,62.5 135.9,62.2 136.3,63.3 136.7,63.2 137.1,64.4 137.5,63.4 137.9,62.1 138.3,63.4 138.7,66.5 139.1,64.7 139.5,59.3 139.9,62.7 140.3,61.7 140.7,63.6 141.0,62.5 141.4,65.3 141.8,63.9 142.2,63.8 142.6,62.8 143.0,62.5 143.4,62.9 143.8,64.1 144.2,63.1 144.6,61.9 145.0,64.0 145.4,62.5 145.8,62.1 146.2,61.2 146.6,61.4 147.0,61.3 147.4,58.4 147.8,63.4 148.2,62.8 148.6,61.7 149.0,63.3 149.3,62.5 149.7,62.4 150.1,58.7 150.5,61.5 150.9,62.5 151.3,63.9 151.7,64.2 152.1,63.6 152.5,60.2 152.9,58.9 153.3,62.4 153.7,61.7 154.1,62.9 154.5,61.5 154.9,61.9 155.3,59.7 155.7,62.2 156.1,61.0 156.5,62.0 156.9,62.2 157.3,61.4 157.7,61.9 158.1,61.5 158.5,62.5 158.9,62.1 159.3,60.8 159.7,60.7 160.1,63.7 160.5,61.3 160.9,62.7 161.3,61.9 161.7,60.7 162.0,60.5 162.4,61.6 162.8,61.7 163.2,62.2 163.6,59.8 164.0,60.6 164.4,61.2 164.8,63.4 165.2,58.4 165.6,61.9 166.0,60.6 166.4,61.9 166.8,60.7 167.2,61.8 167.6,63.3 168.0,61.8 168.4,61.8 168.8,61.8 169.2,60.4 169.6,62.0 170.0,61.0 170.4,60.3 170.8,61.3 171.2,61.0 171.6,62.3 172.0,61.3 172.3,60.7 172.7,63.2 173.1,62.7 173.5,63.1 173.9,62.3 174.3,61.4 174.7,61.1 175.1,61.3 175.5,62.9 175.9,61.9 176.3,60.0 176.7,61.8 177.0,60.2 177.4,62.2 177.8,60.6 178.2,60.6 178.6,62.4 179.0,62.2 179.4,60.4 179.8,63.4 180.2,65.2 180.6,60.8 181.0,65.0 181.3,62.0 181.7,62.3 182.1,62.8 182.5,61.3 182.9,64.8 183.3,63.9 183.7,62.5 184.1,63.2 184.5,61.8 184.9,63.4 185.3,65.1 185.7,62.0 186.1,63.8 186.5,64.7 186.8,65.9 187.2,66.5 187.6,64.6 188.0,64.5 188.4,66.1 188.8,65.4 189.2,65.8 189.6,67.7 190.0,68.7 190.4,67.3 190.7,67.2 191.1,68.4 191.5,66.2 191.8,68.7 192.2,68.1 192.6,72.2 192.9,71.0 193.3,70.9 193.7,71.2 194.1,69.7 194.5,73.1 194.9,74.5 195.3,73.1 195.7,74.8 196.1,75.5 196.5,74.5 196.8,76.9 197.2,77.8 197.6,77.7 198.0,78.2 198.4,79.4 198.8,78.8 199.2,80.3 199.6,81.5 200.0,81.1 200.4,82.8 200.8,82.9 201.1,83.1 201.5,84.6 201.9,85.0 202.3,86.2 202.7,86.6 203.1,88.0 203.4,88.3 203.8,89.3 204.2,89.9 204.6,90.6 204.9,91.5 205.3,92.0 205.6,92.6 206.0,93.3 206.3,94.2 206.7,95.0 207.1,96.0 207.4,97.1 207.8,98.3 208.2,99.6 208.5,101.0 208.9,102.4 209.3,103.8 209.6,105.3 210.0,106.7 210.4,108.2 210.8,109.7 211.2,111.2 211.5,112.8 211.9,114.4 212.3,116.0 212.7,117.6 213.1,119.3 213.5,121.0 213.8,122.7 214.2,124.5 214.6,126.4 215.0,128.3 215.4,130.3 215.8,132.3 216.1,134.4 216.5,136.6 216.9,138.9 217.3,141.2 217.7,143.5 218.1,145.9 218.4,148.4 218.8,150.8 219.2,153.3 219.6,155.7 219.9,158.2 220.3,160.8 220.7,163.4 221.0,166.0 221.4,168.7 221.8,171.4 222.1,174.0 222.5,176.7 222.9,179.3 223.2,181.8 223.6,184.3 223.9,186.9 224.3,189.5 224.6,192.2 225.0,195.0 225.3,197.2 225.5,199.5 225.8,202.0 226.1,205.6 226.5,209.5 226.8,213.6 227.2,217.8 227.5,221.7 227.9,225.7 228.2,229.8 228.6,233.8 228.9,237.7 229.3,241.5 229.6,245.0 230.0,248.3 230.4,251.5 230.7,254.7 231.1,257.8 231.4,260.6 231.8,263.2 232.1,265.2 232.5,266.7 232.9,267.7 233.2,268.6 233.6,269.4 233.9,270.0 234.3,270.6 234.6,271.2 235.0,271.7 235.4,272.2 235.7,272.7 236.1,273.0 236.5,273.4 236.8,273.8 237.2,274.2 237.6,274.6 237.9,275.1 238.3,275.8 238.7,276.8 239.1,278.1 239.4,279.8 239.8,281.7 240.2,283.8 240.6,285.9 240.9,288.0 241.3,289.9 241.7,291.7 242.1,293.3 242.4,294.9 242.8,296.5 243.1,298.0 243.5,299.5 243.8,300.7 244.2,301.7 244.6,302.7 245.0,303.7 245.4,304.5 245.8,305.1 246.2,305.3 246.5,305.2 246.9,304.9 247.2,304.4 247.6,303.8 248.0,303.1 248.3,302.5 248.7,301.7 249.1,300.8 249.4,299.8 249.8,298.6 250.2,297.3 250.6,296.0 250.9,294.6 251.3,293.2 251.7,291.7 252.1,290.2 252.4,288.4 252.8,286.5 253.2,284.6 253.5,282.6 253.9,280.5 254.3,278.6 254.6,276.7 255.0,275.0 255.4,273.4 255.7,272.0 256.1,270.5 256.4,269.1 256.8,267.7 257.1,266.4 257.5,265.0 257.9,263.6 258.2,262.1 258.6,260.7 258.9,259.3 259.3,258.0 259.6,256.8 260.0,255.8 260.4,254.9 260.8,254.1 261.1,253.4 261.5,252.8 261.9,252.2 262.3,251.7 262.7,251.1 263.1,250.5 263.4,249.8 263.8,249.1 264.2,248.3 264.6,247.4 264.9,246.5 265.3,245.5 265.7,244.5 266.0,243.4 266.4,242.2 266.8,241.0 267.1,239.7 267.5,238.3 267.9,236.8 268.2,235.2 268.6,233.4 269.0,231.5 269.3,229.6 269.7,227.6 270.1,225.6 270.4,223.6 270.8,221.7 271.2,219.8 271.5,217.9 271.9,216.0 272.2,214.1 272.6,212.1 272.9,210.2 273.3,208.3 273.7,206.4 274.0,204.4 274.4,202.5 274.7,200.6 275.1,198.7 275.4,196.8 275.8,195.0 276.2,193.2 276.5,191.4 276.9,189.7 277.2,188.0 277.6,186.3 277.9,184.8 278.3,183.3 278.7,181.8 279.1,180.4 279.5,179.0 279.8,177.7 280.2,176.4 280.6,175.1 281.0,173.9 281.4,172.7 281.8,171.5 282.1,170.3 282.5,169.1 282.9,167.9 283.3,166.7 283.7,165.5 284.1,164.3 284.5,163.1 284.8,161.9 285.2,160.7 285.6,159.5 286.0,158.3 286.4,157.1 286.8,156.0 287.1,154.9 287.5,153.8 287.9,152.7 288.3,151.7 288.7,150.7 289.1,149.7 289.4,148.6 289.8,147.6 290.2,146.7 290.6,145.7 291.0,144.8 291.4,143.9 291.7,143.1 292.1,142.4 292.5,141.7 292.9,141.0 293.3,140.4 293.6,139.7 294.0,139.2 294.4,138.8 294.8,138.7 295.2,138.8 295.6,139.1 296.0,139.6 296.3,140.2 296.7,140.9 297.1,141.7 297.5,142.8 297.9,144.4 298.2,146.3 298.6,148.6 299.0,150.9 299.4,153.3 299.8,155.7 300.2,158.8 300.5,161.7 300.9,164.8 301.3,168.0 301.6,172.1 302.0,176.6 302.3,181.2 302.7,185.7 303.0,190.0 303.4,193.8 303.8,197.4 304.2,202.0 304.5,214.1 304.7,229.1 305.0,245.0 305.3,268.6 305.6,294.0 306.0,334.4 306.3,369.6 306.6,375.8 307.0,380.0 307.4,375.2 307.8,368.5 308.1,361.8 308.5,357.0 308.9,360.0 309.2,364.0 309.6,368.6 310.0,373.7 310.3,379.0 310.7,384.4 311.1,394.1 311.4,405.1 311.8,415.5 312.2,423.0 312.6,418.6 312.9,412.5 313.3,405.8 313.7,399.3 314.1,393.2 314.4,386.9 314.8,380.7 315.2,374.4 315.5,368.3 315.9,362.2 316.3,356.6 316.6,351.1 317.0,345.6 317.4,340.0 317.8,334.1 318.1,328.0 318.5,322.1 318.9,316.7 319.3,313.0 319.6,309.4 320.0,306.3 320.4,304.0 320.8,306.2 321.1,309.2 321.5,312.7 321.9,316.7 322.2,326.1 322.6,337.4 322.9,350.0 323.1,363.6 323.3,377.0 323.6,385.6 323.8,391.9 324.1,387.9 324.5,382.4 324.8,377.0 325.2,372.3 325.6,367.7 325.9,363.0 326.3,357.8 326.6,349.3 327.0,340.0 327.3,332.1 327.5,324.1 327.8,316.7 328.2,310.1 328.6,304.1 329.0,298.0 329.3,292.0 329.7,285.8 330.0,279.6 330.3,273.7 330.7,267.9 331.0,262.0 331.4,255.3 331.7,248.4 332.0,241.6 332.4,235.0 332.8,229.4 333.1,223.9 333.5,218.5 333.9,213.2 334.2,208.0 334.6,203.0 335.0,199.0 335.3,194.7 335.6,190.8 336.0,187.1 336.4,183.6 336.7,180.2 337.1,176.8 337.4,173.5 337.8,170.2 338.1,167.2 338.4,164.6 338.8,162.5 339.2,160.6 339.6,158.8 340.0,157.2 340.4,155.7 340.7,154.4 341.1,153.2 341.5,152.1 341.9,151.1 342.3,150.2 342.6,149.5 343.0,148.7 343.4,148.1 343.8,147.4 344.1,146.8 344.5,146.3 344.9,145.7 345.3,145.1 345.6,144.5 346.0,143.9 346.4,143.3 346.8,142.6 347.1,142.0 347.5,141.4 347.9,140.8 348.3,140.2 348.7,139.6 349.1,138.9 349.4,138.3 349.8,137.7 350.2,137.0 350.6,136.3 350.9,135.7 351.3,135.1 351.7,134.4 352.1,133.7 352.4,133.0 352.8,132.5 353.2,131.7 353.6,131.0 353.9,130.2 354.3,129.6 354.7,128.4 355.1,127.2 355.5,126.2 355.9,124.7 356.3,123.9 356.7,122.6 357.1,121.5 357.5,120.4 357.9,118.9 358.3,118.7 358.7,117.1 359.1,116.9 359.5,115.1 359.9,115.1 360.3,113.8 360.7,113.4 361.1,112.3 361.5,111.0 361.9,110.7 362.3,110.4 362.7,110.0 363.1,108.4 363.5,107.5 363.9,107.3 364.3,106.9 364.7,106.1 365.1,105.4 365.5,105.5 365.9,104.9 366.3,104.2 366.7,102.9 367.1,102.7 367.5,102.0 367.9,100.9 368.3,101.4 368.7,100.5 369.1,99.7 369.5,99.9 369.9,99.1 370.3,98.6 370.7,98.2 371.0,97.5 371.4,96.1 371.8,96.0 372.2,96.1 372.6,94.9 373.0,94.8 373.4,94.4 373.8,94.5 374.2,94.0 374.6,93.3 375.0,92.4 375.4,92.5 375.8,91.9 376.2,91.2 376.6,91.5 377.0,90.7 377.4,89.7 377.8,90.3 378.2,89.2 378.6,89.2 379.0,87.9 379.3,88.2 379.7,87.4 380.1,87.1 380.5,86.3 380.9,87.8 381.3,86.4 381.7,86.3 382.1,86.4 382.5,85.5 382.9,85.5 383.3,84.4 383.7,84.8 384.1,84.3 384.5,84.4 384.9,84.0 385.3,83.0 385.7,82.5 386.1,82.7 386.5,83.3 386.9,82.9 387.3,82.7 387.7,81.3 388.1,80.7 388.5,81.5 388.9,81.4 389.3,81.1 389.7,81.3 390.1,80.9 390.5,80.1 390.9,80.1 391.3,80.4 391.7,80.1 392.1,79.8 392.5,80.8 392.9,79.3 393.3,79.3 393.7,78.5 394.1,78.6 394.5,78.8 394.9,78.6 395.3,78.0 395.7,78.0 396.1,77.6 396.5,76.3 396.8,75.4 397.2,78.1 397.6,77.0 398.0,76.3 398.4,75.2 398.8,75.2 399.2,76.4 399.6,73.9 400.0,75.0 400.4,75.4 400.8,74.8 401.2,74.9 401.6,74.2 402.0,75.3 402.4,73.3 402.8,72.9 403.2,73.5 403.5,74.0 403.9,72.9 404.3,73.3 404.7,72.3 405.1,71.7 405.5,73.0 405.9,72.9 406.3,72.7 406.7,71.5 407.1,70.9 407.5,70.7 407.9,71.1 408.3,71.4 408.7,71.2 409.0,70.0 409.4,70.8 409.8,70.5 410.2,70.4 410.6,70.2 411.0,70.0 411.4,70.3 411.8,69.9 412.2,69.8 412.6,69.2 413.0,69.7 413.4,69.3 413.7,68.0 414.1,69.4 414.5,68.8 414.9,69.4 415.3,68.6 415.7,68.6 416.1,68.6 416.5,68.4 416.9,68.0 417.3,67.1 417.7,69.2 418.0,67.0 418.4,67.7 418.8,68.2 419.2,67.9 419.6,67.9 420.0,68.0 420.4,68.2 420.8,67.5 421.2,69.0 421.6,66.5 422.0,67.2 422.3,66.7 422.7,66.5 423.1,67.0 423.5,67.7 423.9,66.2 424.3,66.1 424.7,67.0 425.1,66.8 425.5,67.7 425.9,67.0 426.3,66.3 426.6,65.9 427.0,66.2 427.4,65.8 427.8,64.9 428.2,65.8 428.6,65.6 429.0,65.5 429.4,65.3 429.8,66.9 430.2,66.1 430.6,66.2 431.0,64.9 431.3,64.5 431.7,65.0 432.1,65.4 432.5,64.8 432.9,64.9 433.3,65.8 433.7,65.2 434.1,64.0 434.5,64.4 434.9,64.2 435.3,64.9 435.7,63.6 436.1,64.4 436.5,65.2 436.8,64.5 437.2,63.6 437.6,63.8 438.0,64.5 438.4,64.8 438.8,65.1 439.2,64.1 439.6,62.9 440.0,65.6 440.4,64.4 440.8,64.4 441.2,64.3 441.6,62.9 442.0,63.6 442.4,64.1 442.8,64.9 443.2,63.8 443.5,60.5 443.9,63.4 444.3,64.0 444.7,64.9 445.1,64.3 445.5,66.1 445.9,64.9 446.3,64.8 446.7,64.3 447.1,61.8 447.5,64.1 447.9,63.8 448.3,62.5 448.7,63.6 449.0,63.4 449.4,62.3 449.8,62.6 450.2,62.4 450.6,62.9 451.0,62.1 451.4,63.1 451.8,60.2 452.2,62.0 452.6,60.3 453.0,61.6 453.4,62.7 453.7,62.0 454.1,61.8 454.5,61.9 454.9,63.6 455.3,60.4 455.7,62.7 456.1,59.8 456.5,61.0 456.9,61.7 457.3,60.5 457.7,61.7 458.0,62.2 458.4,59.9 458.8,61.2 459.2,60.9 459.6,59.0 460.0,61.1 460.4,60.3 460.8,62.9 461.2,60.2 461.6,63.4 462.0,60.7 462.4,63.7 462.8,62.0 463.2,61.9 463.6,62.3 464.0,62.5 464.4,63.1 464.8,63.5 465.2,61.0 465.6,59.8 466.0,58.1 466.4,60.9 466.8,62.4 467.2,61.9 467.6,61.6 468.0,61.0 468.4,60.7 468.7,61.1 469.1,62.0 469.5,59.3 469.9,62.5 470.3,59.7 470.7,61.4 471.1,60.8 471.5,61.1 471.9,60.3 472.3,60.1 472.7,61.3 473.1,60.3 473.5,64.8 473.9,61.1 474.3,60.8 474.7,61.0 475.1,60.3 475.5,58.6 475.9,61.4 476.3,62.1 476.7,59.8 477.1,61.7 477.5,60.2 477.9,61.6 478.3,62.1 478.7,62.3 479.1,62.2 479.5,60.8 479.9,62.8 480.3,61.1 480.7,62.1 481.0,62.6 481.4,61.3 481.8,60.1 482.2,62.4 482.6,60.3 483.0,60.6 483.4,60.4 483.8,62.7 484.2,61.5 484.6,59.0 485.0,62.6 485.4,64.2 485.8,63.8 486.2,61.0 486.6,61.8 487.0,62.3 487.4,62.7 487.8,61.7 488.2,60.4 488.6,62.6 489.0,62.4 489.3,60.1 489.7,61.3 490.1,62.0 490.5,61.7 490.9,62.3 491.3,62.6 491.7,62.3 492.1,61.6 492.5,60.1 492.9,62.4 493.3,63.3 493.7,63.9 494.1,61.7 494.5,61.7 494.9,63.4 495.3,63.4 495.7,62.1 496.1,62.6 496.5,60.9 496.9,62.5 497.3,60.9 497.7,61.7 498.1,61.8 498.5,61.4 498.9,59.6 499.3,61.1 499.7,62.4 500.1,62.0 500.5,61.7 500.9,62.6 501.3,62.9 501.6,63.1 502.0,61.6 502.4,62.4 502.8,62.2 503.2,61.8 503.6,61.5 504.0,62.5 504.4,62.1 504.8,63.9 505.2,62.7 505.6,62.7 506.0,62.6 506.4,63.9 506.8,62.4 507.2,62.9 507.6,62.6 508.0,63.0 508.4,63.1 508.8,63.8 509.2,62.4 509.6,63.2 510.0,64.2 510.4,63.0 510.8,63.3 511.2,62.9 511.6,62.0 512.0,63.4 512.4,64.1 512.8,63.3 513.2,62.6 513.6,63.7 514.0,63.7 514.4,64.2 514.8,64.2 515.2,63.6 515.6,64.0 516.0,62.8 516.4,64.4 516.8,63.9 517.2,64.4 517.6,64.5 518.0,63.8 518.4,63.9 518.7,63.5 519.1,62.9 519.5,64.0 519.9,64.2 520.3,63.5 520.7,64.5 521.1,64.2 521.5,64.5 521.9,63.8 522.3,63.3 522.7,64.7 523.1,64.7 523.5,64.3 523.9,64.2 524.3,64.3 524.7,64.4 525.1,64.3 525.5,63.5 525.9,65.0 526.3,63.9 526.7,64.5 527.1,64.6 527.5,64.9 527.9,64.0 528.3,65.5 528.7,65.2 529.0,65.3 529.4,65.6 529.8,64.6 530.2,63.4 530.6,65.3 531.0,65.8 531.4,65.8 531.8,65.0 532.2,65.3 532.6,65.5 533.0,64.5 533.4,65.1 533.7,65.2 534.1,66.4 534.5,65.3 534.9,66.5 535.3,65.7 535.7,64.9 536.1,67.0 536.5,65.4 536.9,66.3 537.3,66.9 537.7,65.8 538.0,65.5 538.4,66.7 538.8,66.3 539.2,65.7 539.6,65.9 540.0,66.3 540.4,67.1 540.8,66.5 541.2,67.1 541.6,67.7 542.0,67.5 542.4,67.7 542.8,67.7 543.2,66.4 543.6,67.9 544.0,67.5 544.4,67.4 544.8,67.1 545.2,67.0 545.6,67.3 546.0,68.0 546.4,67.6 546.8,68.0 547.2,68.2 547.6,68.8 548.0,68.7 548.4,68.9 548.8,69.4 549.2,69.2 549.6,69.6 550.0,69.5 550.4,70.0 550.8,70.3 551.2,70.6 551.5,71.0 551.9,71.5 552.3,72.0 552.7,72.5 553.1,73.1 553.5,73.6 553.8,74.2 554.2,74.7 554.6,75.3 555.0,75.8 555.4,76.3 555.7,77.0 556.1,77.5 556.4,78.0 556.8,78.5 557.1,79.0 557.5,79.3 557.9,79.2 558.2,79.2 558.6,79.1 558.9,79.0 559.3,78.9 559.6,78.9 560.0,78.8 560.4,79.3 560.7,80.0 561.1,80.8 561.5,81.6 561.9,82.6 562.2,83.5 562.6,84.5 563.0,86.2 563.3,88.1 563.7,90.1 564.1,92.2 564.5,94.4 564.8,96.7 565.2,99.0 565.6,102.3 565.9,106.0 566.2,109.8 566.6,113.6 566.9,117.4 567.3,121.0 567.7,124.4 568.0,128.0 568.4,131.4 568.7,134.3 569.1,136.5 569.5,135.1 569.8,133.1 570.2,130.9 570.5,128.5 570.9,126.0 571.2,122.1 571.6,117.7 572.0,113.1 572.3,108.5 572.6,104.1 573.0,100.0 573.4,96.9 573.8,93.9 574.2,91.0 574.6,88.4 575.0,86.0 575.4,84.8 575.7,83.7 576.1,82.7 576.5,81.8 576.8,80.9 577.2,80.2 577.6,80.0 578.0,79.9 578.3,79.7 578.7,79.5 579.1,79.4 579.5,79.3 579.9,79.2 580.2,79.1 580.6,79.0 581.0,78.9 581.4,79.0 581.7,79.2 582.1,79.4 582.4,79.6 582.8,79.8 583.1,80.0 583.5,80.3 583.8,80.5 584.2,80.8 584.6,81.5 585.0,82.2 585.4,82.9 585.8,83.8 586.1,84.6 586.5,85.6 586.9,86.7 587.3,87.8 587.6,90.7 588.0,94.1 588.3,97.8 588.6,101.7 588.9,107.1 589.2,112.9 589.6,119.1 589.9,125.7 590.2,135.1 590.5,145.0 590.8,155.0 591.1,164.0 591.5,168.6 591.9,172.5 592.2,176.1 592.6,179.5 593.0,183.0 593.3,186.1 593.7,189.2 594.0,192.3 594.4,194.9 594.7,196.9 595.1,194.9 595.5,192.1 595.8,188.9 596.2,185.5 596.6,179.6 597.0,173.1 597.4,166.6 597.7,161.2 598.0,155.8 598.4,150.4 598.7,145.0 599.0,140.1 599.3,135.8 599.6,133.8 600.0,132.0 600.3,130.5 600.6,129.4 601.0,130.6 601.4,132.3 601.7,134.1 602.1,135.8 602.5,137.0 602.9,134.9 603.3,132.1 603.6,128.9 604.0,125.8 604.4,123.1 604.8,121.6 605.2,120.2 605.5,118.8 605.9,117.7 606.3,116.8 606.7,117.5 607.1,118.4 607.4,119.4 607.8,120.6 608.2,121.9 608.6,125.9 609.0,130.8 609.4,135.8 609.8,140.4 610.1,145.1 610.5,150.0 610.9,156.4 611.2,163.0 611.6,167.8 612.0,164.7 612.3,160.4 612.6,155.7 613.0,151.4 613.4,148.2 613.8,145.1 614.1,142.1 614.5,139.0 614.8,135.9 615.1,133.2 615.5,132.3 615.9,131.5 616.2,130.8 616.6,130.2 617.0,129.4 617.4,128.2 617.8,127.0 618.1,125.8 618.5,124.4 618.9,123.1 619.3,121.4 619.7,119.5 620.0,117.7 620.4,115.9 620.8,114.3 621.2,113.5 621.5,112.8 621.9,112.1 622.2,111.4 622.6,110.8 622.9,110.1 623.3,109.5 623.6,108.8 624.0,108.0 624.4,106.8 624.7,105.5 625.1,104.1 625.4,102.8 625.8,101.4 626.1,100.2 626.5,99.1 626.9,98.5 627.3,98.0 627.6,97.5 628.0,97.0 628.4,96.6 628.8,96.3 629.1,96.1 629.5,95.8 629.8,95.6 630.2,95.3 630.6,95.1 630.9,94.8 631.3,94.6 631.7,94.4 632.0,94.1 632.4,93.8 632.8,93.6 633.1,93.3 633.5,93.1 633.9,92.8 634.2,92.6 634.6,92.3 635.0,92.1 635.3,91.9 635.7,91.7 636.1,91.6 636.5,91.5 636.8,91.4 637.2,91.3 637.6,91.3 638.0,91.2 638.3,91.1 638.7,91.0 639.1,91.0 639.5,90.9 639.8,90.8 640.2,90.8 640.6,90.9 640.9,91.0 641.3,91.1 641.7,91.3 642.0,91.4 642.4,91.6 642.8,91.8 643.2,91.9 643.5,92.0 643.9,92.1 644.3,91.7 644.6,91.2 645.0,90.7 645.4,90.1 645.8,89.4 646.1,88.8 646.5,88.3 646.9,87.9 647.2,87.5 647.5,87.1 647.9,86.7 648.2,86.4 648.6,86.2 648.9,86.9 649.3,87.9 649.6,89.1 650.0,90.3 650.3,91.5 650.7,93.1 651.0,94.8 651.4,96.6 651.7,98.2 652.1,99.7 652.5,100.5 652.9,101.3 653.2,102.0 653.6,102.7 654.0,103.5 654.3,104.7 654.7,106.2 655.0,107.6 655.4,108.9 655.7,109.8 656.1,108.4 656.5,106.5 656.8,104.5 657.2,102.8 657.5,102.1 657.9,101.4 658.2,100.7 658.5,100.3 658.9,101.0 659.3,101.9 659.6,103.0 660.0,104.2 660.4,105.4 660.8,107.4 661.1,109.5 661.5,111.8 661.8,114.2 662.2,116.7 662.5,120.0 662.9,123.5 663.2,127.1 663.5,130.6 663.8,134.1 664.1,137.6 664.5,141.1 664.8,144.5 665.1,147.3 665.4,150.1 665.8,154.2 666.2,158.2 666.5,162.4 666.9,166.8 667.3,171.6 667.6,177.8 668.0,184.4 668.3,191.7 668.6,200.0 668.9,217.6 669.2,235.3 669.5,244.1 669.9,252.3 670.2,259.2 670.5,264.3 670.8,263.9 671.1,263.4 671.4,262.8 671.7,262.4 672.0,264.9 672.4,268.4 672.7,272.2 673.0,275.7 673.3,278.6 673.6,281.7 673.9,284.4 674.2,286.4 674.6,281.5 674.9,274.6 675.3,266.8 675.6,255.3 675.8,242.1 676.1,230.0 676.4,220.8 676.8,212.2 677.1,204.2 677.4,196.8 677.8,191.2 678.2,185.9 678.5,180.9 678.9,176.1 679.3,171.6 679.7,168.6 680.0,165.8 680.4,163.1 680.7,160.5 681.1,157.9 681.4,155.2 681.8,152.6 682.1,150.2 682.5,147.7 682.8,145.3 683.1,143.2 683.5,141.7 683.9,140.2 684.2,138.8 684.6,137.6 685.0,136.5 685.4,135.7 685.8,136.6 686.1,137.8 686.5,139.2 686.9,140.7 687.2,142.6 687.5,144.7 687.8,146.9 688.1,148.8 688.5,150.3 688.9,151.8 689.2,153.2 689.6,154.3 690.0,155.2 690.4,155.2 690.8,155.2 691.1,155.2 691.5,155.2 691.9,155.2 692.3,154.8 692.7,154.1 693.1,153.4 693.5,152.7 693.9,152.0 694.3,151.6 694.6,152.5 695.0,153.7 695.4,155.1 695.7,156.4 696.1,157.9 696.4,159.5 696.8,161.2 697.1,162.8 697.5,164.5 697.8,166.2 698.2,167.8 698.6,169.6 699.0,171.3 699.4,173.1 699.8,174.8 700.2,176.6 700.6,178.3 701.0,180.0 701.4,181.7 701.8,183.1 702.2,184.5 702.6,185.9 703.0,187.3 703.3,188.6 703.7,190.0 704.1,191.5 704.5,193.0 704.9,195.1 705.2,197.5 705.6,200.0 706.0,202.5 706.4,204.8 706.7,206.7 707.1,208.2 707.5,206.3 707.9,203.6 708.3,200.6 708.6,196.9 709.0,192.8 709.3,188.5 709.6,184.2 709.9,179.4 710.2,174.3 710.6,169.5 710.9,165.3 711.3,163.1 711.6,161.1 712.0,159.3 712.3,157.5 712.7,155.8 713.0,154.2 713.4,152.6 713.8,151.4 714.1,150.2 714.5,149.1 714.8,148.0 715.1,146.9 715.5,146.0 715.9,145.4 716.3,144.9 716.6,144.4 717.0,143.9 717.4,143.4 717.8,142.9 718.1,142.5 718.5,142.1 718.9,141.7 719.3,141.5 719.7,141.3 720.0,141.1 720.4,141.0 720.8,140.8 721.2,140.6 721.6,140.5 721.9,140.3 722.3,140.0 722.7,139.8 723.1,138.7 723.4,137.3 723.8,135.7 724.1,134.1 724.5,132.3 724.8,130.7 725.2,129.1 725.6,127.5 726.0,125.8 726.3,124.2 726.7,122.7 727.1,121.6 727.5,121.5 727.9,121.4 728.3,121.3 728.7,121.2 729.0,121.2 729.4,121.1 729.8,121.0 730.2,121.0 730.6,121.4 731.0,122.0 731.4,122.6 731.8,123.3 732.2,124.1 732.6,124.9 733.0,125.7 733.4,126.6 733.8,128.2 734.1,130.0 734.5,131.9 734.8,133.6 735.2,134.8 735.5,132.1 735.9,128.3 736.2,124.2 736.5,120.3 736.8,117.0 737.1,113.6 737.5,110.5 737.8,107.8 738.2,106.7 738.5,105.7 738.9,104.8 739.2,104.0 739.6,103.3 740.0,103.1 740.4,102.9 740.8,102.7 741.2,102.6 741.6,102.4 742.0,102.3 742.4,102.2 742.8,102.1 743.2,102.3 743.6,102.4 743.9,102.7 744.3,102.9 744.7,103.2 745.1,103.5 745.5,103.7 745.8,104.0 746.2,104.3 746.6,104.6 747.0,105.0 747.3,105.3 747.7,105.7 748.1,106.1 748.5,106.5 748.8,106.9 749.2,107.3 749.6,107.7 749.9,108.1 750.3,108.4 750.7,108.6 751.1,108.9 751.4,109.1 751.8,109.4 752.2,109.6 752.6,109.8 753.0,110.0 753.3,110.2 753.7,110.4 754.1,110.5 754.5,110.5 754.9,110.5 755.3,110.4 755.7,110.4 756.1,110.4 756.5,110.4 756.9,110.3 757.3,110.3 757.7,110.0 758.0,109.7 758.4,109.4 758.8,109.0 759.1,108.6 759.5,108.2 759.9,107.8 760.3,107.4 760.6,106.9 761.0,106.5 761.4,105.9 761.8,105.2 762.2,104.6 762.6,103.9 763.0,103.2 763.4,102.5 763.8,101.7 764.2,101.0 764.6,100.3 765.0,99.6 765.4,98.9 765.8,98.2 766.2,97.5 766.6,96.8 767.0,96.1 767.4,95.4 767.8,94.7 768.2,94.0 768.6,93.3 769.0,92.6 769.4,92.0 769.8,91.4 770.2,91.0 770.5,90.6 770.9,90.2 771.3,89.8 771.7,89.4 772.0,89.1 772.4,88.9 772.8,89.1 773.2,89.3 773.5,89.5 773.9,89.8 774.3,90.1 774.7,91.0 775.0,92.0 775.4,93.2 775.7,94.5 776.1,95.8"/>
</g>
<g stroke="#000" stroke-width="2.4" fill="none" stroke-linecap="round">
<rect x="10.3" y="8.4" width="771.2" height="574.8" stroke-linejoin="round"/>
<line x1="106.6" y1="583.2" x2="106.6" y2="593.9"/>
<line x1="299.3" y1="583.2" x2="299.3" y2="593.9"/>
<line x1="492.0" y1="583.2" x2="492.0" y2="593.9"/>
<line x1="684.6" y1="583.2" x2="684.6" y2="593.9"/>
<line x1="10.3" y1="583.2" x2="10.3" y2="588.4"/>
<line x1="203.0" y1="583.2" x2="203.0" y2="588.4"/>
<line x1="395.6" y1="583.2" x2="395.6" y2="588.4"/>
<line x1="588.3" y1="583.2" x2="588.3" y2="588.4"/>
<line x1="781.5" y1="583.2" x2="781.5" y2="588.4"/>
</g>
<g>
<text x="106.2" y="618.4" text-anchor="middle" font-size="21.9">4000</text>
<text x="298.9" y="618.4" text-anchor="middle" font-size="21.9">3000</text>
<text x="491.6" y="618.4" text-anchor="middle" font-size="21.9">2000</text>
<text x="684.2" y="618.4" text-anchor="middle" font-size="21.9">1000</text>
</g>
<text transform="translate(605.9,364.7) scale(1,1.06)" font-size="14.3" stroke="none">1311.3</text>
<text transform="translate(626.6,219.5) scale(1,1.04)" font-size="14.3" stroke="none">1149.9</text>
<line x1="572.3" y1="536.0" x2="616.8" y2="536.0" stroke="#ff0000" stroke-width="1.25"/>
<line x1="572.3" y1="566.4" x2="616.8" y2="566.4" stroke="#000000" stroke-width="1.15"/>
<text transform="translate(621.9,543.0) scale(1,1.12)" font-size="19.35">TBAB1:4AP-CO<tspan font-size="12.6" dy="6.2">2</tspan></text>
<text transform="translate(621.9,572.9) scale(1,1.085)" font-size="19.35">TBAB1:4AP</text>
<text x="278.2" y="666" font-size="27.2">Wavenumber (cm<tspan font-size="16" dy="-13.6">-1</tspan><tspan dy="13.6">)</tspan></text>
</svg>
</body>
</html>
